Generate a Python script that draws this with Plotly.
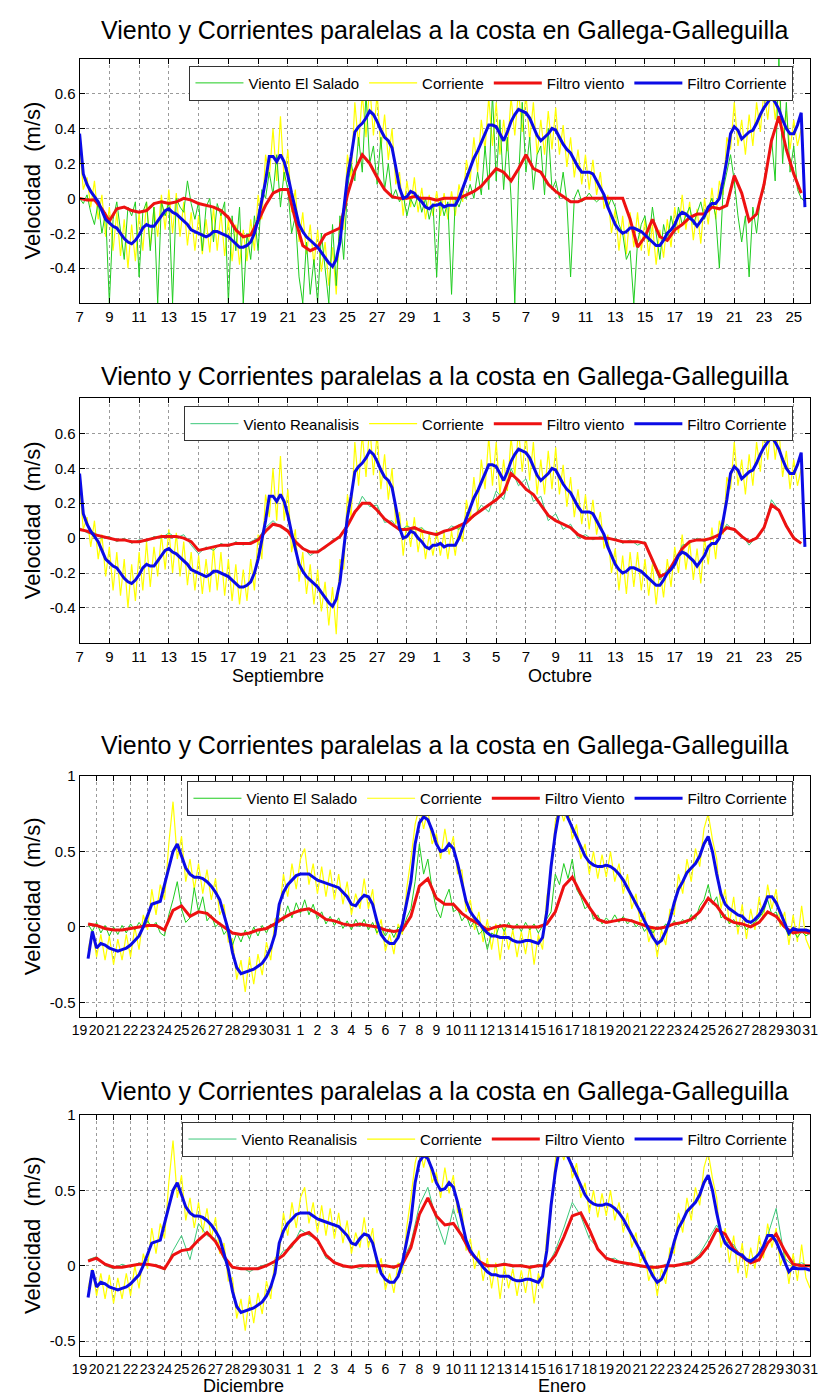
import numpy as np
import plotly.graph_objects as go

W, H = 825, 1398
FONT = "Liberation Sans, Arial, sans-serif"

TITLE = "Viento y Corrientes paralelas a la costa en Gallega-Galleguilla"
YLABEL = "Velocidad  (m/s)"

# ---------------- Period A: 7 Sep -> 26 Oct (day 0 = 7 Sep) ----------------
ticks_a = ["7", "9", "11", "13", "15", "17", "19", "21", "23", "25", "27", "29",
           "1", "3", "5", "7", "9", "11", "13", "15", "17", "19", "21", "23", "25"]
months_a = ["Septiembre", "Octubre"]

# filtered current (6-hourly)
filt_corr_a = [
    0.37, 0.14, 0.08, 0.04, 0.01, -0.02, -0.07, -0.12,
    -0.14, -0.16, -0.17, -0.20, -0.23, -0.25, -0.26, -0.24,
    -0.21, -0.17, -0.15, -0.16, -0.16, -0.13, -0.10, -0.07,
    -0.06, -0.08, -0.09, -0.11, -0.13, -0.15, -0.18, -0.19,
    -0.20, -0.21, -0.22, -0.21, -0.19, -0.19, -0.20, -0.21,
    -0.22, -0.24, -0.26, -0.28, -0.28, -0.27, -0.25, -0.20,
    -0.12, -0.02, 0.10, 0.24, 0.24, 0.21, 0.25, 0.21,
    0.13, 0.03, -0.07, -0.15, -0.19, -0.22, -0.24, -0.26,
    -0.28, -0.31, -0.34, -0.37, -0.39, -0.35, -0.25, -0.05,
    0.12, 0.24, 0.38, 0.41, 0.43, 0.46, 0.50, 0.48,
    0.44, 0.39, 0.35, 0.33, 0.29, 0.18, 0.06, 0.00,
    0.01, 0.04, 0.03, 0.00, -0.02, -0.05, -0.06, -0.04,
    -0.04, -0.03, -0.05, -0.04, -0.04, -0.04, 0.00, 0.06,
    0.12, 0.18, 0.23, 0.27, 0.32, 0.38, 0.42, 0.42,
    0.41, 0.37, 0.33, 0.38, 0.44, 0.48, 0.51, 0.50,
    0.49, 0.46, 0.41, 0.36, 0.33, 0.35, 0.37, 0.40,
    0.39, 0.35, 0.31, 0.28, 0.26, 0.22, 0.18, 0.15,
    0.15, 0.15, 0.14, 0.10, 0.06, 0.02, -0.05, -0.10,
    -0.15, -0.18, -0.20, -0.19, -0.17, -0.17, -0.18, -0.19,
    -0.21, -0.23, -0.25, -0.27, -0.27, -0.24, -0.20, -0.18,
    -0.15, -0.10, -0.08, -0.09, -0.11, -0.13, -0.16, -0.13,
    -0.10, -0.05, -0.03, -0.03, 0.00, 0.10, 0.22, 0.37,
    0.41, 0.39, 0.34, 0.36, 0.38, 0.39, 0.43, 0.48,
    0.52, 0.55, 0.58, 0.55, 0.51, 0.45, 0.40, 0.37,
    0.37, 0.42, 0.49, -0.05,
]

# raw current (6-hourly)
corr_a = [
    0.30, 0.05, 0.12, -0.05, 0.10, -0.12, 0.02, -0.22,
    -0.05, -0.30, -0.08, -0.33, -0.12, -0.40, -0.15, -0.36,
    -0.08, -0.30, -0.02, -0.28, -0.05, -0.22, 0.02, -0.18,
    0.05, -0.20, 0.03, -0.22, -0.02, -0.27, -0.08, -0.30,
    -0.10, -0.32, -0.12, -0.31, -0.05, -0.30, -0.08, -0.33,
    -0.12, -0.36, -0.15, -0.38, -0.18, -0.36, -0.12, -0.30,
    0.02, -0.12, 0.25, 0.12, 0.40, 0.10, 0.47, 0.10,
    0.28, -0.08, 0.05, -0.25, -0.08, -0.32, -0.15, -0.38,
    -0.18, -0.42, -0.25, -0.50, -0.28, -0.55, -0.12, -0.18,
    0.25, 0.12, 0.55, 0.30, 0.60, 0.35, 0.65, 0.36,
    0.60, 0.28, 0.48, 0.22, 0.40, 0.08, 0.15, -0.10,
    0.10, -0.05, 0.12, -0.08, 0.06, -0.12, 0.02, -0.10,
    0.04, -0.10, 0.03, -0.12, 0.04, -0.10, 0.08, -0.02,
    0.22, 0.10, 0.35, 0.15, 0.45, 0.28, 0.58, 0.30,
    0.55, 0.25, 0.45, 0.27, 0.58, 0.36, 0.62, 0.38,
    0.60, 0.33, 0.55, 0.25, 0.45, 0.25, 0.50, 0.28,
    0.52, 0.25, 0.42, 0.18, 0.35, 0.12, 0.28, 0.08,
    0.25, 0.05, 0.22, 0.02, 0.15, -0.06, 0.02, -0.20,
    -0.06, -0.30, -0.10, -0.32, -0.08, -0.28, -0.08, -0.30,
    -0.12, -0.33, -0.15, -0.38, -0.18, -0.34, -0.12, -0.28,
    -0.05, -0.20, 0.02, -0.18, -0.02, -0.24, -0.06, -0.26,
    0.00, -0.15, 0.06, -0.12, 0.10, 0.02, 0.35, 0.28,
    0.55, 0.30, 0.45, 0.25, 0.48, 0.30, 0.55, 0.38,
    0.62, 0.45, 0.68, 0.45, 0.62, 0.35, 0.50, 0.28,
    0.45, 0.30, 0.40,
]

# wind El Salado raw (6-hourly)
wind_salado_a = [
    0.00, -0.03, 0.02, -0.08, -0.15, -0.02, -0.20, -0.08,
    -0.60, -0.12, -0.02, -0.18, -0.35, -0.05, -0.10, -0.02,
    -0.45, -0.08, -0.02, -0.30, -0.05, -0.60, -0.02, -0.10,
    -0.02, -0.60, 0.00, -0.05, -0.08, 0.10, -0.03, -0.12,
    -0.02, -0.30, -0.05, 0.00, -0.25, -0.03, -0.10, -0.02,
    -0.60, -0.10, -0.30, -0.05, -0.60, -0.20, -0.35, -0.10,
    -0.30, 0.05, 0.00, 0.15, 0.02, 0.25, -0.05, 0.15,
    0.05, -0.20, -0.10, -0.45, -0.60, -0.25, -0.55, -0.35,
    -0.60, -0.20, -0.40, -0.60, -0.15, -0.50, -0.10, -0.35,
    0.05, 0.20, 0.10, 0.35, 0.15, 0.60, 0.20, 0.30,
    0.08, 0.35, 0.05, 0.20, 0.00, 0.05, -0.02, 0.02,
    -0.10, 0.00, -0.05, 0.02, -0.08, 0.00, -0.12, -0.03,
    -0.45, 0.00, -0.10, -0.02, -0.55, 0.00, -0.05, 0.02,
    0.00, 0.08, 0.00, 0.15, 0.02, 0.30, 0.05, 0.60,
    0.10, 0.45, 0.05, 0.35, 0.00, -0.60, 0.10, 0.55,
    0.15, 0.35, 0.05, 0.25, 0.30, 0.02, 0.40, 0.05,
    0.10, 0.00, 0.15, -0.02, -0.45, 0.00, 0.05, -0.02,
    0.00, 0.03, 0.00, -0.02, 0.00, 0.02, -0.05, 0.00,
    -0.05, -0.15, -0.20, -0.35, -0.30, -0.60, -0.25, -0.15,
    -0.10, -0.25, -0.05, -0.20, -0.35, -0.15, -0.25, -0.10,
    -0.20, -0.05, -0.15, -0.10, -0.05, -0.15, -0.08, -0.02,
    -0.12, -0.05, 0.00, -0.10, -0.40, 0.05, 0.15, 0.25,
    0.10, -0.10, -0.25, -0.10, -0.45, -0.05, -0.20, 0.00,
    0.05, 0.20, 0.35, 0.10, 0.80, 0.20, 0.55, 0.15,
    0.30, 0.05, 0.00, -0.02,
]

# filtered wind El Salado (12-hourly)
filt_salado_a = [
    0.00, -0.01, -0.01, -0.06, -0.13, -0.06, -0.05, -0.07, -0.08, -0.07,
    -0.03, -0.02, -0.03, -0.02, 0.00, -0.01, -0.03, -0.04, -0.05, -0.07,
    -0.11, -0.18, -0.22, -0.21, -0.13, -0.04, 0.03, 0.05, 0.05, -0.12,
    -0.27, -0.30, -0.28, -0.21, -0.19, -0.17, 0.02, 0.16, 0.25, 0.20,
    0.12, 0.05, 0.01, 0.00, 0.00, 0.01, 0.00, 0.00, -0.01, 0.00,
    0.00, 0.00, 0.02, 0.04, 0.07, 0.12, 0.17, 0.15, 0.10, 0.17,
    0.25, 0.17, 0.15, 0.08, 0.04, 0.01, -0.02, -0.02, 0.00, 0.00,
    0.00, 0.00, 0.00, 0.00, -0.12, -0.28, -0.22, -0.12, -0.22, -0.24,
    -0.18, -0.15, -0.11, -0.09, -0.09, -0.05, -0.06, -0.04, 0.13, 0.03,
    -0.13, -0.09, 0.08, 0.33, 0.47, 0.28, 0.14, 0.03,
]

# wind reanalysis raw (12-hourly)
wind_rean_a = [
    0.06, 0.03, 0.03, 0.00, 0.01, -0.02, 0.00, -0.03, -0.01, -0.02,
    0.01, 0.00, 0.03, 0.00, 0.02, -0.04, -0.09, -0.05, -0.07, -0.03,
    -0.05, -0.02, -0.04, -0.02, 0.00, 0.06, 0.10, 0.06, 0.05, -0.03,
    -0.05, -0.10, -0.07, -0.06, -0.01, 0.00, 0.09, 0.14, 0.24, 0.18,
    0.19, 0.09, 0.10, 0.04, 0.07, 0.05, 0.06, 0.02, 0.03, 0.03,
    0.07, 0.05, 0.11, 0.12, 0.19, 0.15, 0.27, 0.22, 0.40, 0.30,
    0.34, 0.21, 0.24, 0.10, 0.14, 0.05, 0.08, 0.00, 0.02, -0.01,
    0.01, -0.01, 0.00, -0.03, -0.01, -0.04, -0.02, -0.14, -0.24, -0.18,
    -0.15, -0.04, -0.03, 0.00, -0.02, 0.01, 0.01, 0.08, 0.04, 0.02,
    -0.04, 0.01, 0.05, 0.22, 0.16, 0.08, 0.01, -0.03,
]

# filtered wind reanalysis (12-hourly)
filt_rean_a = [
    0.05, 0.04, 0.02, 0.01, 0.00, -0.01, -0.01, -0.02, -0.02, -0.01,
    0.00, 0.01, 0.01, 0.01, 0.00, -0.02, -0.07, -0.06, -0.05, -0.04,
    -0.04, -0.03, -0.03, -0.03, -0.01, 0.04, 0.08, 0.07, 0.04, -0.02,
    -0.06, -0.08, -0.08, -0.05, -0.02, 0.01, 0.07, 0.15, 0.20, 0.20,
    0.16, 0.11, 0.08, 0.05, 0.05, 0.06, 0.04, 0.03, 0.02, 0.04,
    0.05, 0.07, 0.09, 0.13, 0.16, 0.19, 0.22, 0.26, 0.37, 0.33,
    0.28, 0.25, 0.19, 0.13, 0.10, 0.08, 0.06, 0.02, 0.00, 0.00,
    0.00, 0.00, -0.01, -0.02, -0.02, -0.02, -0.03, -0.12, -0.22, -0.20,
    -0.13, -0.06, -0.02, -0.01, -0.01, 0.00, 0.02, 0.06, 0.05, 0.01,
    -0.02, 0.00, 0.06, 0.19, 0.16, 0.07, 0.00, -0.03,
]

# ---------------- Period B: 19 Dec -> 31 Jan (day 0 = 19 Dec) ----------------
ticks_b = [str(d) for d in range(19, 32)] + [str(d) for d in range(1, 32)]
months_b = ["Diciembre", "Enero"]

filt_corr_b = [
    -0.21, -0.03, -0.14, -0.11, -0.12, -0.14, -0.15, -0.16,
    -0.15, -0.14, -0.12, -0.09, -0.06, 0.00, 0.08, 0.15,
    0.16, 0.17, 0.28, 0.40, 0.50, 0.55, 0.47, 0.39,
    0.35, 0.33, 0.33, 0.32, 0.30, 0.27, 0.23, 0.18,
    0.08, -0.02, -0.17, -0.27, -0.31, -0.30, -0.29, -0.28,
    -0.26, -0.24, -0.20, -0.14, -0.05, 0.15, 0.23, 0.28,
    0.31, 0.34, 0.35, 0.35, 0.35, 0.33, 0.31, 0.30,
    0.29, 0.28, 0.27, 0.26, 0.23, 0.20, 0.15, 0.14,
    0.18, 0.21, 0.20, 0.15, 0.04, -0.05, -0.09, -0.11,
    -0.11, -0.07, 0.02, 0.15, 0.30, 0.55, 0.69, 0.73,
    0.71, 0.64, 0.55, 0.50, 0.51, 0.55, 0.52, 0.42,
    0.30, 0.17, 0.10, 0.06, 0.03, -0.01, -0.04, -0.06,
    -0.06, -0.07, -0.07, -0.07, -0.09, -0.10, -0.10, -0.09,
    -0.09, -0.10, -0.11, -0.07, 0.10, 0.40, 0.62, 0.78,
    0.79, 0.72, 0.66, 0.60, 0.53, 0.47, 0.43, 0.41,
    0.40, 0.40, 0.41, 0.40, 0.38, 0.35, 0.31, 0.26,
    0.20, 0.15, 0.10, 0.04, -0.02, -0.07, -0.11, -0.09,
    -0.03, 0.05, 0.16, 0.25, 0.30, 0.36, 0.39, 0.42,
    0.47, 0.55, 0.60, 0.50, 0.35, 0.22, 0.15, 0.12,
    0.10, 0.08, 0.07, 0.04, 0.03, 0.05, 0.08, 0.13,
    0.20, 0.20, 0.16, 0.09, 0.02, -0.04, -0.01, -0.02,
    -0.02, -0.02, -0.03,
]

corr_b = [
    -0.15, -0.02, -0.20, -0.05, -0.22, -0.06, -0.25, -0.08,
    -0.22, -0.05, -0.20, 0.00, -0.15, 0.08, -0.02, 0.25,
    0.08, 0.28, 0.18, 0.55, 0.83, 0.45, 0.60, 0.30,
    0.45, 0.25, 0.42, 0.22, 0.38, 0.18, 0.32, 0.08,
    0.15, -0.10, -0.08, -0.35, -0.22, -0.43, -0.20, -0.38,
    -0.18, -0.32, -0.10, -0.22, 0.05, 0.08, 0.35, 0.20,
    0.42, 0.25, 0.45, 0.52, 0.28, 0.42, 0.22, 0.40,
    0.20, 0.38, 0.18, 0.35, 0.15, 0.30, 0.08, 0.22,
    0.12, 0.32, 0.12, 0.25, -0.05, 0.05, -0.16, -0.05,
    -0.18, 0.02, -0.05, 0.25, 0.45, 0.68, 0.80, 0.65,
    0.78, 0.55, 0.62, 0.45, 0.65, 0.48, 0.60, 0.35,
    0.38, 0.10, 0.18, -0.02, 0.10, -0.10, 0.05, -0.15,
    0.02, -0.22, 0.00, -0.15, -0.02, -0.20, -0.03, -0.18,
    0.00, -0.25, -0.05, -0.15, 0.20, 0.35, 0.70, 0.80,
    0.70, 0.80, 0.58, 0.68, 0.45, 0.55, 0.35, 0.50,
    0.32, 0.48, 0.33, 0.50, 0.30, 0.42, 0.22, 0.35,
    0.12, 0.22, 0.02, 0.10, -0.10, 0.00, -0.20, -0.02,
    -0.12, 0.12, 0.08, 0.35, 0.22, 0.45, 0.30, 0.52,
    0.40, 0.65, 0.75, 0.58, 0.45, 0.12, 0.25, 0.02,
    0.20, -0.05, 0.15, -0.08, 0.12, -0.02, 0.20, 0.05,
    0.28, 0.12, 0.25, 0.00, 0.10, -0.12, 0.08, -0.10,
    0.14, -0.08, -0.15,
]

wind_salado_b = [
    0.02, -0.03, 0.03, -0.04, 0.01, -0.06, 0.00, -0.05,
    0.01, -0.04, 0.02, -0.02, 0.03, -0.01, 0.04, 0.00,
    0.03, -0.04, -0.06, 0.08, 0.18, 0.30, 0.12, 0.03,
    0.06, 0.26, 0.10, 0.20, 0.04, 0.08, 0.00, 0.03,
    -0.05, -0.01, -0.12, -0.04, -0.10, -0.02, -0.08, 0.00,
    -0.06, 0.01, -0.04, 0.02, -0.01, 0.06, 0.04, 0.14,
    0.06, 0.16, 0.09, 0.18, 0.08, 0.15, 0.05, 0.10,
    0.02, 0.07, 0.01, 0.06, -0.01, 0.04, -0.02, 0.05,
    0.00, 0.05, -0.02, 0.03, -0.04, 0.00, -0.06, -0.01,
    -0.07, 0.00, -0.03, 0.06, 0.12, 0.30, 0.55, 0.35,
    0.45, 0.25, 0.12, 0.06, 0.18, 0.25, 0.10, 0.12,
    0.04, 0.08, 0.00, 0.04, -0.05, -0.02, -0.15, -0.04,
    -0.06, 0.02, -0.03, 0.03, -0.02, 0.02, -0.03, 0.03,
    -0.02, 0.02, -0.04, 0.01, 0.05, 0.10, 0.35, 0.28,
    0.42, 0.32, 0.45, 0.25, 0.20, 0.12, 0.15, 0.05,
    0.08, 0.02, 0.06, 0.03, 0.08, 0.03, 0.07, 0.02,
    0.05, 0.00, 0.03, -0.03, 0.01, -0.04, 0.00, -0.02,
    0.02, 0.00, 0.04, 0.01, 0.05, 0.02, 0.08, 0.05,
    0.14, 0.18, 0.28, 0.15, 0.20, 0.06, 0.08, 0.02,
    0.05, 0.00, 0.03, -0.02, 0.01, 0.03, 0.06, 0.10,
    0.18, 0.08, 0.10, 0.02, 0.00, -0.06, -0.02, -0.07,
    -0.03, -0.06, -0.04,
]

filt_salado_b = [
    0.02, 0.01, -0.01, -0.02, -0.02, -0.01, 0.00, 0.01, 0.01, -0.02,
    0.11, 0.14, 0.07, 0.10, 0.09, 0.04, 0.00, -0.04, -0.05, -0.04,
    -0.02, -0.01, 0.02, 0.06, 0.09, 0.11, 0.12, 0.09, 0.05, 0.04,
    0.02, 0.01, 0.02, 0.01, 0.00, -0.02, -0.03, -0.02, 0.07, 0.27,
    0.32, 0.19, 0.15, 0.15, 0.09, 0.05, 0.02, -0.02, 0.00, 0.01,
    0.00, 0.00, 0.00, 0.00, 0.02, 0.10, 0.27, 0.33, 0.22, 0.13,
    0.05, 0.03, 0.04, 0.05, 0.04, 0.02, 0.00, -0.01, 0.00, 0.02,
    0.03, 0.05, 0.10, 0.19, 0.14, 0.06, 0.03, 0.02, 0.00, 0.03,
    0.10, 0.07, 0.00, -0.04, -0.03, -0.04,
]

wind_rean_b = [
    0.04, 0.06, 0.00, -0.02, 0.01, -0.01, 0.02, 0.00, 0.01, -0.03,
    0.10, 0.20, 0.04, 0.28, 0.20, 0.18, 0.04, -0.02, -0.01, -0.04,
    -0.01, 0.01, 0.02, 0.10, 0.12, 0.24, 0.20, 0.18, 0.05, 0.03,
    -0.01, 0.00, -0.02, 0.01, -0.01, 0.01, -0.02, 0.03, 0.15, 0.40,
    0.52, 0.30, 0.14, 0.38, 0.18, 0.10, 0.01, 0.01, -0.01, 0.02,
    -0.01, 0.01, -0.02, 0.01, -0.01, 0.10, 0.25, 0.42, 0.33, 0.18,
    0.12, 0.04, 0.05, 0.01, 0.02, -0.01, 0.00, -0.02, 0.01, -0.01,
    0.02, 0.03, 0.08, 0.18, 0.27, 0.16, 0.14, 0.05, 0.04, 0.08,
    0.20, 0.38, 0.05, 0.00, 0.02, -0.01,
]

filt_rean_b = [
    0.03, 0.05, 0.01, -0.01, -0.01, 0.00, 0.01, 0.01, 0.00, -0.02,
    0.07, 0.10, 0.11, 0.17, 0.22, 0.16, 0.06, -0.01, -0.02, -0.02,
    -0.02, 0.00, 0.03, 0.07, 0.14, 0.20, 0.22, 0.17, 0.07, 0.02,
    0.00, -0.01, 0.00, 0.00, 0.00, 0.00, -0.01, 0.01, 0.12, 0.34,
    0.45, 0.33, 0.27, 0.28, 0.20, 0.09, 0.03, 0.00, 0.00, 0.01,
    0.00, 0.00, -0.01, 0.00, 0.00, 0.07, 0.19, 0.33, 0.35, 0.24,
    0.11, 0.05, 0.03, 0.02, 0.01, 0.00, -0.01, -0.01, 0.00, 0.00,
    0.01, 0.02, 0.06, 0.13, 0.24, 0.21, 0.11, 0.06, 0.02, 0.04,
    0.15, 0.21, 0.10, 0.01, 0.00, 0.00,
]

# ---------------- styling / layout helpers ----------------
GREEN = "#1fcc1f"
GREEN_R = "#3cc87a"
YELLOW = "#ffff00"
RED = "#ee1111"
BLUE = "#0b0be6"


def times(start, step, vals):
    return start + step * np.arange(len(vals))


def ydom(top, bottom):
    return [1 - bottom / H, 1 - top / H]


L, R = 73, 818
panels = [
    dict(top=50, bottom=296, title_y=21, leg_top=57, xr=[0, 49.1], yr=[-0.6, 0.8],
         ytv=[-0.4, -0.2, 0, 0.2, 0.4, 0.6], ytt=["-0.4", "-0.2", "0", "0.2", "0.4", "0.6"],
         ticks=ticks_a, step_ticks=2, t0_q=0.0, t0_h=0.0, tfs=15,
         wind=wind_salado_a, wstep=0.25, wcol=GREEN, wname="Viento El Salado",
         corr=corr_a, fcorr=filt_corr_a, fwind=filt_salado_a, fwname="Filtro viento"),
    dict(top=392, bottom=638, title_y=369, leg_top=400, xr=[0, 49.1], yr=[-0.6, 0.8],
         ytv=[-0.4, -0.2, 0, 0.2, 0.4, 0.6], ytt=["-0.4", "-0.2", "0", "0.2", "0.4", "0.6"],
         ticks=ticks_a, step_ticks=2, t0_q=0.0, t0_h=0.0, tfs=15,
         wind=wind_rean_a, wstep=0.5, wcol=GREEN_R, wname="Viento Reanalisis",
         corr=corr_a, fcorr=filt_corr_a, fwind=filt_rean_a, fwname="Filtro viento",
         months=months_a, month_x=[275, 563], month_y=671),
    dict(top=772, bottom=1015, title_y=741, leg_top=777, xr=[0, 43], yr=[-0.6, 1.0],
         ytv=[-0.5, 0, 0.5, 1], ytt=["-0.5", "0", "0.5", "1"],
         ticks=ticks_b, step_ticks=1, t0_q=0.5, t0_h=0.5, tfs=14,
         wind=wind_salado_b, wstep=0.25, wcol=GREEN, wname="Viento El Salado",
         corr=corr_b, fcorr=filt_corr_b, fwind=filt_salado_b, fwname="Filtro Viento"),
    dict(top=1113, bottom=1356, title_y=1089, leg_top=1120, xr=[0, 43], yr=[-0.6, 1.0],
         ytv=[-0.5, 0, 0.5, 1], ytt=["-0.5", "0", "0.5", "1"],
         ticks=ticks_b, step_ticks=1, t0_q=0.5, t0_h=0.5, tfs=14,
         wind=wind_rean_b, wstep=0.5, wcol=GREEN_R, wname="Viento Reanalisis",
         corr=corr_b, fcorr=filt_corr_b, fwind=filt_rean_b, fwname="Filtro Viento",
         months=months_b, month_x=[240, 565], month_y=1386),
]

fig = go.Figure()
layout = dict(
    width=W, height=H, margin=dict(l=0, r=0, t=0, b=0),
    paper_bgcolor="white", plot_bgcolor="white",
    font=dict(family=FONT, color="black", size=15),
    showlegend=True, annotations=[],
)

for i, p in enumerate(panels, start=1):
    xa = "x" if i == 1 else f"x{i}"
    ya = "y" if i == 1 else f"y{i}"
    lg = "legend" if i == 1 else f"legend{i}"
    # raw current (drawn first, underneath)
    fig.add_trace(go.Scatter(
        x=times(p["t0_q"], 0.25, p["corr"]), y=p["corr"], mode="lines",
        line=dict(color=YELLOW, width=1.2), name="Corriente",
        xaxis=xa, yaxis=ya, legend=lg, legendrank=2))
    fig.add_trace(go.Scatter(
        x=times(p["t0_q"], p["wstep"], p["wind"]), y=p["wind"], mode="lines",
        line=dict(color=p["wcol"], width=1), name=p["wname"],
        xaxis=xa, yaxis=ya, legend=lg, legendrank=1))
    fig.add_trace(go.Scatter(
        x=times(p["t0_h"], 0.5, p["fwind"]), y=p["fwind"], mode="lines",
        line=dict(color=RED, width=3), name=p["fwname"],
        xaxis=xa, yaxis=ya, legend=lg, legendrank=3))
    fig.add_trace(go.Scatter(
        x=times(p["t0_q"], 0.25, p["fcorr"]), y=p["fcorr"], mode="lines",
        line=dict(color=BLUE, width=3), name="Filtro Corriente",
        xaxis=xa, yaxis=ya, legend=lg, legendrank=4))

    tickvals = [k * p["step_ticks"] for k in range(len(p["ticks"]))]
    axis_common = dict(
        showline=True, linecolor="black", linewidth=1, mirror="allticks",
        ticks="inside", ticklen=5, tickcolor="black",
        showgrid=True, gridcolor="#9a9a9a", griddash="dot", gridwidth=1,
        zeroline=False,
    )
    layout["xaxis" if i == 1 else f"xaxis{i}"] = dict(
        axis_common, domain=[L / W, R / W], range=p["xr"],
        tickvals=tickvals, ticktext=p["ticks"], anchor=ya, tickangle=0,
        ticklabeloverflow="allow",
        tickfont=dict(size=p["tfs"], family=FONT, color="black"))
    layout["yaxis" if i == 1 else f"yaxis{i}"] = dict(
        axis_common, domain=ydom(p["top"], p["bottom"]), range=p["yr"],
        tickvals=p["ytv"], ticktext=p["ytt"], anchor=xa,
        tickfont=dict(size=15, family=FONT, color="black"))
    layout[lg] = dict(
        orientation="h", x=801 / W, xanchor="right", y=1 - p["leg_top"] / H, yanchor="top",
        bgcolor="white", bordercolor="#333333", borderwidth=1,
        font=dict(size=15, family=FONT, color="black"), itemwidth=48,
        traceorder="normal", tracegroupgap=0,
    )
    cy = 1 - (p["top"] + p["bottom"]) / 2 / H
    layout["annotations"].append(dict(
        text=TITLE, x=(L + R) / 2 / W, y=1 - p["title_y"] / H, xref="paper", yref="paper",
        xanchor="center", yanchor="middle", showarrow=False,
        font=dict(size=25, family=FONT, color="black")))
    layout["annotations"].append(dict(
        text=YLABEL, x=25 / W, y=cy, xref="paper", yref="paper", textangle=-90,
        xanchor="center", yanchor="middle", showarrow=False,
        font=dict(size=22, family=FONT, color="black")))
    if "months" in p:
        for name, mx in zip(p["months"], p["month_x"]):
            layout["annotations"].append(dict(
                text=name, x=mx / W, y=1 - p["month_y"] / H, xref="paper", yref="paper",
                xanchor="center", yanchor="middle", showarrow=False,
                font=dict(size=18, family=FONT, color="black")))

fig.update_layout(layout)
fig.write_html("out.html")
